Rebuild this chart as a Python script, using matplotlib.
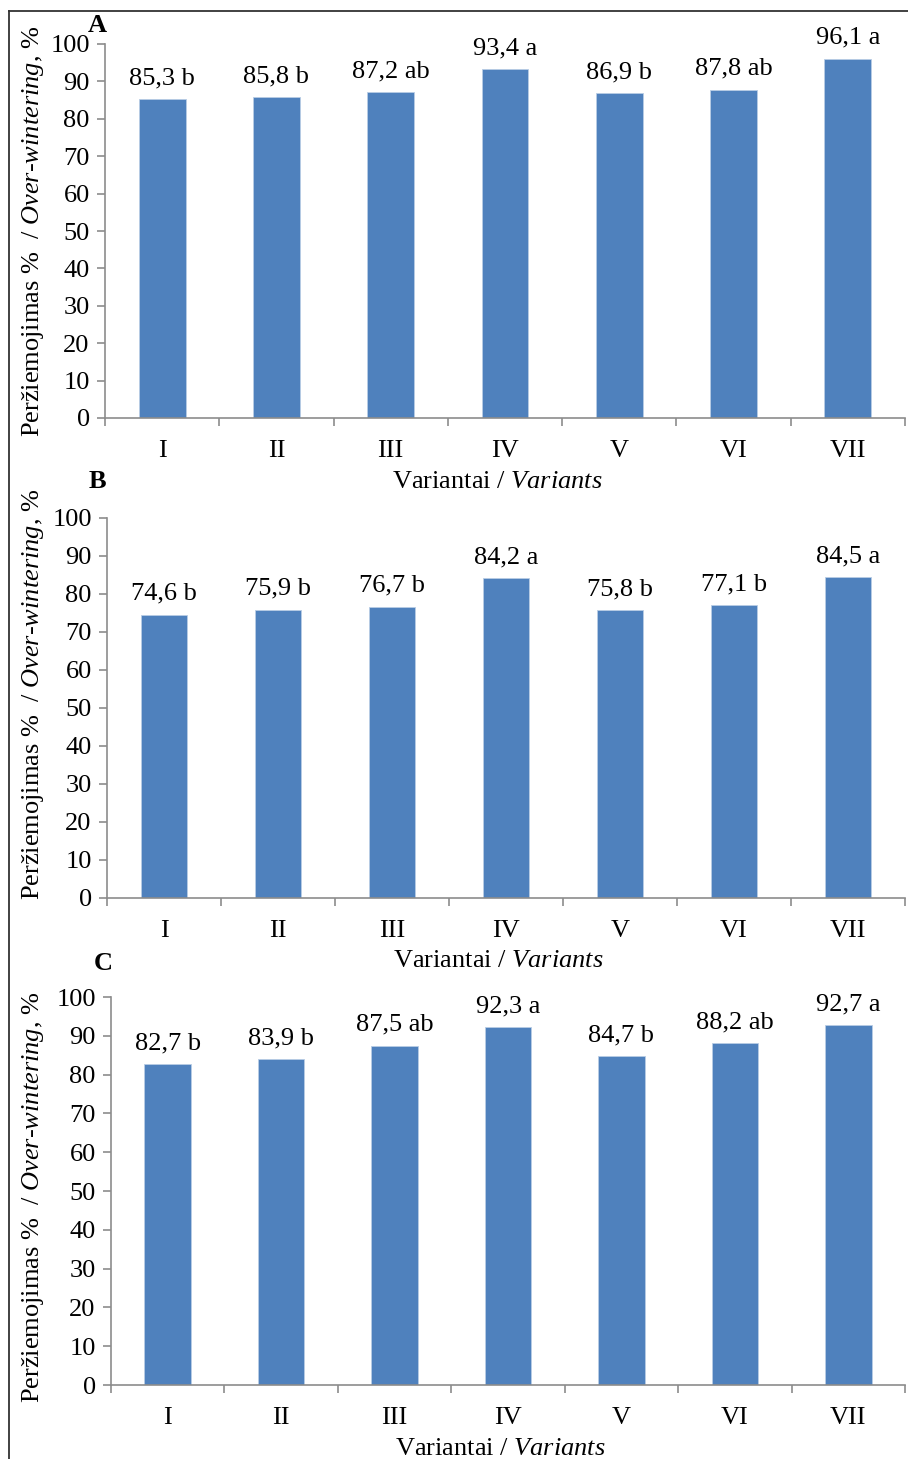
import matplotlib
matplotlib.use("Agg")
import matplotlib.pyplot as plt
from matplotlib.lines import Line2D

plt.rcParams['font.family'] = ['Liberation Serif', 'DejaVu Serif']
plt.rcParams['mathtext.fontset'] = 'custom'
plt.rcParams['mathtext.rm'] = 'Liberation Serif'
plt.rcParams['mathtext.it'] = 'Liberation Serif:italic'

# data
variants = ['I', 'II', 'III', 'IV', 'V', 'VI', 'VII']
values_a = [85.3, 85.8, 87.2, 93.4, 86.9, 87.8, 96.1]
letters_a = ['b', 'b', 'ab', 'a', 'b', 'ab', 'a']
values_b = [74.6, 75.9, 76.7, 84.2, 75.8, 77.1, 84.5]
letters_b = ['b', 'b', 'b', 'a', 'b', 'b', 'a']
values_c = [82.7, 83.9, 87.5, 92.3, 84.7, 88.2, 92.7]
letters_c = ['b', 'b', 'ab', 'a', 'b', 'ab', 'a']
panels = ['A', 'B', 'C']

bar_color = '#4F81BD'
axis_color = '#8C8C8C'
fs = 19

fig = plt.figure(figsize=(9.08, 14.59), dpi=100)

# axes rectangles [left, bottom, width, height] in figure fraction
rects = [
    [105 / 908, 1 - 418 / 1459, 800 / 908, 374 / 1459],
    [107 / 908, 1 - 898 / 1459, 798 / 908, 380 / 1459],
    [111 / 908, 1 - 1385 / 1459, 794 / 908, 388 / 1459],
]
ylab_x = [33 / 908, 33 / 908, 33 / 908]
ylab_y = [1 - 231 / 1459, 1 - 694 / 1459, 1 - 1197 / 1459]
xlab_y = [1 - 482 / 1459, 1 - 961 / 1459, 1 - 1449 / 1459]
letter_pos = [(97 / 908, 1 - 26 / 1459), (97 / 908, 1 - 482 / 1459), (103 / 908, 1 - 963 / 1459)]

all_vals = [values_a, values_b, values_c]
all_letters = [letters_a, letters_b, letters_c]

for i in range(3):
    ax = fig.add_axes(rects[i])
    x = list(range(len(variants)))
    ax.bar(x, all_vals[i], width=0.41, color=bar_color, edgecolor='#B9CDE5', linewidth=0.6)

    # value labels with significance letters
    for xi, v, l in zip(x, all_vals[i], all_letters[i]):
        lab = f"{v:.1f}".replace('.', ',') + ' ' + l
        ax.annotate(lab, (xi, v), xytext=(0, 7), textcoords='offset points',
                    ha='center', va='bottom', fontsize=fs)

    ax.set_xlim(-0.5, len(variants) - 0.5)
    ax.set_ylim(0, 100)
    ax.set_yticks(range(0, 101, 10))
    ax.set_xticks(x)
    ax.set_xticklabels(variants)
    ax.set_xticks([k - 0.5 for k in range(len(variants) + 1)], minor=True)
    ax.tick_params(axis='x', which='major', length=0, pad=16, labelsize=fs)
    ax.tick_params(axis='x', which='minor', length=6, color=axis_color, width=1.2)
    ax.tick_params(axis='y', length=6, color=axis_color, width=1.2, labelsize=fs, pad=5)

    for s in ['top', 'right']:
        ax.spines[s].set_visible(False)
    for s in ['left', 'bottom']:
        ax.spines[s].set_color(axis_color)
        ax.spines[s].set_linewidth(1.2)

    r = rects[i]
    fig.text(ylab_x[i], ylab_y[i],
             r'Peržiemojimas %  / $\mathit{Over}$-$\mathit{wintering}$, %',
             rotation=90, ha='center', va='center', fontsize=fs)
    fig.text(r[0] + r[2] / 2 - 8 / 908, xlab_y[i],
             r'Variantai / $\mathit{Variants}$', ha='center', va='center', fontsize=fs)
    fig.text(letter_pos[i][0], letter_pos[i][1], panels[i], ha='center', va='center',
             fontsize=fs, fontweight='bold')

# frame lines (left and top)
fig.add_artist(Line2D([9 / 908, 9 / 908], [0, 1 - 11 / 1459], color='#333333', lw=1.3,
                      transform=fig.transFigure))
fig.add_artist(Line2D([9 / 908, 1], [1 - 11 / 1459, 1 - 11 / 1459], color='#333333', lw=1.3,
                      transform=fig.transFigure))

fig.savefig('out.png', dpi=100)
